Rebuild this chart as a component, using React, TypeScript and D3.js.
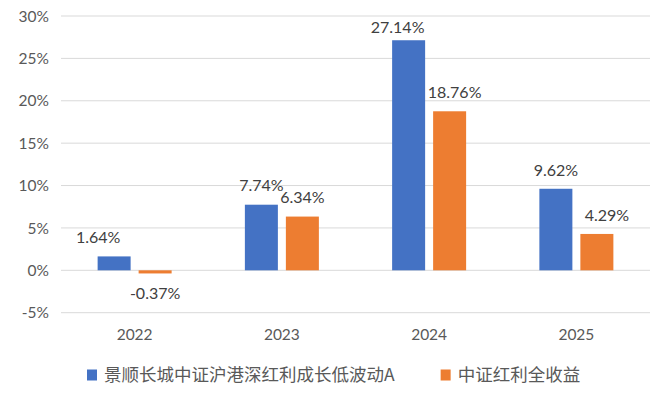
import React, { useEffect, useRef } from "react";
import * as d3 from "d3";

const categories = ["2022", "2023", "2024", "2025"];
const seriesNames = ["景顺长城中证沪港深红利成长低波动A", "中证红利全收益"];
const fundValues = [1.64, 7.74, 27.14, 9.62];
const indexValues = [-0.37, 6.34, 18.76, 4.29];
const yTicks = [-5, 0, 5, 10, 15, 20, 25, 30];
const seriesColors = ["#4472C4", "#ED7D31"];

// Excel-style label displacement (horizontal nudges, px) per series / category
const labelNudgeX = [
  [-16, 0, -11, 0],
  [0, 0, 5, 10],
];

const W = 659;
const H = 395;
const NUM_FONT = "Lato, 'Liberation Sans', sans-serif";
const CJK_FONT = "'Noto Sans CJK SC', sans-serif";

export default function App() {
  const ref = useRef<SVGSVGElement>(null);

  useEffect(() => {
    document.body.style.margin = "0";
    const svg = d3.select(ref.current);
    svg.selectAll("*").remove();

    const left = 61, right = 650, top = 16, bottom = 312.7;
    const y = d3.scaleLinear().domain([-5, 30]).range([bottom, top]);
    const x0 = d3.scaleBand<string>().domain(categories).range([left, right]).padding(0);
    const groupFrac = 74 / 147.25;
    const x1 = d3
      .scaleBand<number>()
      .domain([0, 1])
      .range([0, x0.bandwidth() * groupFrac])
      .paddingInner(0.195)
      .paddingOuter(0);
    const groupOffset = (x0.bandwidth() * (1 - groupFrac)) / 2;

    // grid
    svg
      .append("g")
      .selectAll("line")
      .data(yTicks)
      .join("line")
      .attr("x1", left)
      .attr("x2", right)
      .attr("y1", (d) => y(d))
      .attr("y2", (d) => y(d))
      .attr("stroke", "#D9D9D9")
      .attr("stroke-width", 1);

    // y tick labels
    const fs = 15.5;
    const lfsNum = 16;
    svg
      .append("g")
      .selectAll("text")
      .data(yTicks)
      .join("text")
      .attr("x", 49)
      .attr("y", (d) => y(d) + fs * 0.36)
      .attr("text-anchor", "end")
      .attr("font-family", NUM_FONT)
      .attr("font-size", fs)
      .attr("fill", "#595959")
      .text((d) => `${d}%`);

    // x labels
    svg
      .append("g")
      .selectAll("text")
      .data(categories)
      .join("text")
      .attr("x", (d) => (x0(d) as number) + x0.bandwidth() / 2)
      .attr("y", 334 + fs * 0.36)
      .attr("text-anchor", "middle")
      .attr("font-family", NUM_FONT)
      .attr("font-size", fs)
      .attr("fill", "#595959")
      .text((d) => d);

    const series = [fundValues, indexValues];
    series.forEach((vals, si) => {
      const rows = categories.map((c, i) => ({ c, v: vals[i], i }));
      svg
        .append("g")
        .selectAll("rect")
        .data(rows)
        .join("rect")
        .attr("x", (d) => (x0(d.c) as number) + groupOffset + (x1(si) as number))
        .attr("width", x1.bandwidth())
        .attr("y", (d) => Math.min(y(d.v), y(0)))
        .attr("height", (d) => Math.abs(y(d.v) - y(0)))
        .attr("fill", seriesColors[si]);

      svg
        .append("g")
        .selectAll("text")
        .data(rows)
        .join("text")
        .attr(
          "x",
          (d) =>
            (x0(d.c) as number) + groupOffset + (x1(si) as number) + x1.bandwidth() / 2 + labelNudgeX[si][d.i]
        )
        .attr("y", (d) => {
          const cy = d.v >= 0 ? Math.max(y(d.v) - 19, 27) : y(d.v) + 20;
          return cy + lfsNum * 0.36;
        })
        .attr("text-anchor", "middle")
        .attr("font-family", NUM_FONT)
        .attr("font-size", lfsNum)
        .attr("fill", "#404040")
        .text((d) => `${d.v.toFixed(2)}%`);
    });

    // legend
    const lg = svg.append("g");
    let lx = 87;
    const ly = 375;
    const lfs = 17.5;
    seriesNames.forEach((name, i) => {
      lg.append("rect")
        .attr("x", lx)
        .attr("y", ly - 5.5)
        .attr("width", 10)
        .attr("height", 11)
        .attr("fill", seriesColors[i]);
      const t = lg
        .append("text")
        .attr("x", lx + 17)
        .attr("y", ly + lfs * 0.37)
        .attr("font-family", CJK_FONT)
        .attr("font-size", lfs)
        .attr("fill", "#595959")
        .text(name);
      const len = (t.node() as SVGTextElement).getComputedTextLength();
      lx = lx + 17 + len + 46;
    });
  }, []);

  return <svg ref={ref} width={W} height={H} style={{ display: "block", background: "#fff" }} />;
}
